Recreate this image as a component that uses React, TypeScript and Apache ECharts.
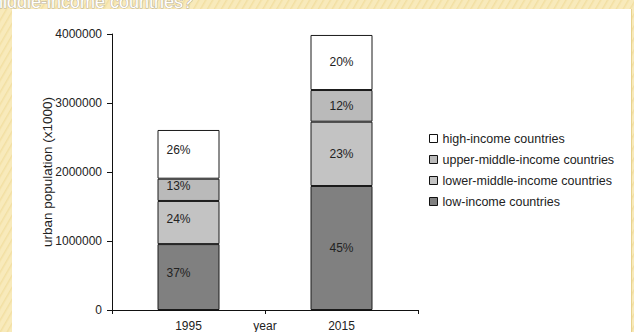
import React, { useEffect, useRef } from 'react';
import * as echarts from 'echarts';

const years = ['1995', '2015'];
const lowIncome = [955000, 1797000];
const lowerMiddleIncome = [625000, 932000];
const upperMiddleIncome = [323000, 459000];
const highIncome = [706000, 798000];
const lowPct = ['37%', '45%'];
const lowerPct = ['24%', '23%'];
const upperPct = ['13%', '12%'];
const highPct = ['26%', '20%'];
const seriesNames = [
  'low-income countries',
  'lower-middle-income countries',
  'upper-middle-income countries',
  'high-income countries',
];
const yMin = 0;
const yMax = 4000000;
const yInterval = 1000000;

const FONT = '"Liberation Sans", Arial, sans-serif';

export default function App() {
  const ref = useRef<HTMLDivElement>(null);
  useEffect(() => {
    if (!ref.current) return;
    const chart = echarts.init(ref.current, null, { renderer: 'svg' });
    const mk = (name: string, values: number[], pcts: string[], color: string) => ({
      name,
      type: 'bar',
      stack: 'total',
      barWidth: 62,
      itemStyle: { color, borderColor: '#1a1a1a', borderWidth: 1 },
      label: {
        show: true,
        position: 'inside',
        fontFamily: FONT,
        fontSize: 12,
        color: '#222',
        formatter: (p: any) => pcts[p.dataIndex],
      },
      data: values.map((v, i) =>
        i === 0
          ? { value: v, label: { position: 'insideLeft', distance: 9, offset: [0, -4] } }
          : { value: v }
      ),
    });
    chart.setOption({
      animation: false,
      textStyle: { fontFamily: FONT },
      graphic: [
        {
          type: 'text',
          x: 193,
          y: 11,
          z: 1,
          style: {
            text: 'middle-income countries?',
            align: 'right',
            verticalAlign: 'bottom',
            fontFamily: FONT,
            fontSize: 18,
            fill: '#ffffff',
            stroke: '#b9b09a',
            lineWidth: 1,
          },
        },
        {
          type: 'rect',
          z: -10,
          shape: { x: 12, y: 9, width: 619, height: 330 },
          style: { fill: '#ffffff' },
        },
      ],
      grid: { left: 112, top: 34, width: 306, height: 276, outerBoundsMode: 'none' },
      legend: {
        orient: 'vertical',
        left: 429,
        top: 132,
        padding: 0,
        itemWidth: 8,
        itemHeight: 8,
        itemGap: 8,
        icon: 'rect',
        data: [seriesNames[3], seriesNames[2], seriesNames[1], seriesNames[0]],
        itemStyle: { borderColor: '#111', borderWidth: 1 },
        textStyle: { fontFamily: FONT, fontSize: 12.5, color: '#222' },
      },
      xAxis: {
        type: 'category',
        data: years,
        name: 'year',
        nameLocation: 'middle',
        nameGap: 10,
        nameMoveOverlap: false,
        nameTextStyle: { fontFamily: FONT, fontSize: 12, color: '#222', verticalAlign: 'top' },
        axisLine: { lineStyle: { color: '#111', width: 1 } },
        axisTick: { show: true, length: 4, alignWithLabel: false, lineStyle: { color: '#111' } },
        axisLabel: { margin: 10, fontFamily: FONT, fontSize: 12, color: '#222' },
        splitLine: { show: false },
      },
      yAxis: {
        type: 'value',
        min: yMin,
        max: yMax,
        interval: yInterval,
        name: 'urban population (x1000)',
        nameLocation: 'middle',
        nameRotate: 90,
        nameGap: 58,
        nameMoveOverlap: false,
        nameTextStyle: { fontFamily: FONT, fontSize: 13.5, color: '#222' },
        axisLine: { show: true, lineStyle: { color: '#111', width: 1 } },
        axisTick: { show: true, length: 5, lineStyle: { color: '#111' } },
        axisLabel: {
          margin: 10,
          fontFamily: FONT,
          fontSize: 12,
          color: '#222',
          formatter: (v: number) => String(v),
        },
        splitLine: { show: false },
      },
      series: [
        mk(seriesNames[0], lowIncome, lowPct, '#808080'),
        mk(seriesNames[1], lowerMiddleIncome, lowerPct, '#c3c3c3'),
        mk(seriesNames[2], upperMiddleIncome, upperPct, '#bababa'),
        mk(seriesNames[3], highIncome, highPct, '#ffffff'),
      ],
    });
    return () => chart.dispose();
  }, []);
  return (
    <div
      style={{
        position: 'fixed',
        left: 0,
        top: 0,
        width: 634,
        height: 332,
        background:
          'repeating-linear-gradient(120deg, #f8eabb 0px, #f8eabb 3px, #f2dfa2 4px, #f8eabb 6px)',
      }}
    >
      <div
        style={{
          position: 'absolute',
          right: 2,
          top: 9,
          width: 2,
          height: 323,
          background: '#e8d18c',
        }}
      />
      <div ref={ref} style={{ position: 'absolute', left: 0, top: 0, width: 634, height: 332 }} />
    </div>
  );
}
